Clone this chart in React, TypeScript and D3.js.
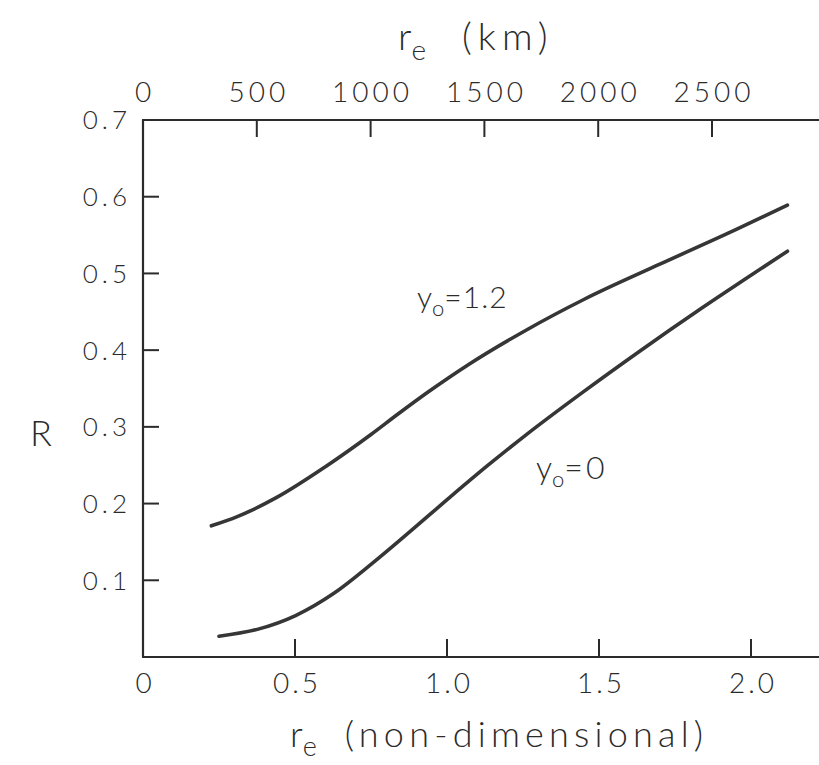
import React from 'react';
import * as d3 from 'd3';

// tick values
const kmTicks = [0, 500, 1000, 1500, 2000, 2500];
const reTicks = [0, 0.5, 1.0, 1.5, 2.0];
const RTicks = [0.1, 0.2, 0.3, 0.4, 0.5, 0.6, 0.7];

// y0 = 1.2 curve
const reUpper = [0.225, 0.31, 0.44, 0.6, 0.75, 0.84, 0.94, 1.07, 1.26, 1.45, 1.7, 1.95, 2.12];
const RUpper = [0.171, 0.183, 0.208, 0.248, 0.29, 0.317, 0.346, 0.381, 0.426, 0.466, 0.512, 0.557, 0.589];

// y0 = 0 curve
const reLower = [0.25, 0.376, 0.502, 0.628, 0.754, 0.88, 1.006, 1.132, 1.258, 1.446, 1.635, 1.824, 1.975, 2.12];
const RLower = [0.027, 0.036, 0.054, 0.083, 0.122, 0.164, 0.207, 0.249, 0.289, 0.345, 0.399, 0.451, 0.491, 0.529];

const width = 819;
const height = 765;
const ink = '#2b2b2b';
const font = "Lato, 'Open Sans', 'DejaVu Sans', sans-serif";

export default function App() {
  const x = d3.scaleLinear().domain([0, 2]).range([143, 751]);
  const xKm = d3.scaleLinear().domain([0, 2500]).range([143, 712]);
  const y = d3.scaleLinear().domain([0, 0.7]).range([657, 120]);

  const line = d3
    .line<number[]>()
    .x(d => d[0])
    .y(d => d[1])
    .curve(d3.curveMonotoneX);

  const upperPts = reUpper.map((r, i) => [x(r), y(RUpper[i])]);
  const lowerPts = reLower.map((r, i) => [x(r), y(RLower[i])]);

  const top = y(0.7);
  const bottom = y(0);
  const left = x(0);

  return (
    <svg
      width={width}
      height={height}
      style={{ position: 'absolute', left: 0, top: 0, background: '#fff' }}
      fontFamily={font}
      fill={ink}
    >
      {/* frame: left, top and bottom only */}
      <g stroke={ink} strokeWidth={2.2} fill="none">
        <line x1={left} y1={top} x2={left} y2={bottom} />
        <line x1={left - 1} y1={top} x2={width} y2={top} />
        <line x1={left - 1} y1={bottom} x2={width} y2={bottom} />
      </g>

      {/* left ticks */}
      {RTicks.filter(v => v < 0.7).map(v => (
        <line key={'lt' + v} x1={left} x2={left + 16} y1={y(v)} y2={y(v)} stroke={ink} strokeWidth={2} />
      ))}
      {/* bottom ticks */}
      {reTicks.filter(v => v > 0).map(v => (
        <line key={'bt' + v} x1={x(v)} x2={x(v)} y1={bottom} y2={bottom - 18} stroke={ink} strokeWidth={2} />
      ))}
      {/* top ticks */}
      {kmTicks.filter(v => v > 0).map(v => (
        <line key={'tt' + v} x1={xKm(v)} x2={xKm(v)} y1={top} y2={top + 17} stroke={ink} strokeWidth={2} />
      ))}

      {/* tick labels */}
      <g fontSize={26} fontWeight={300} letterSpacing={4}>
        {RTicks.map(v => (
          <text key={'ly' + v} x={131} y={y(v)} dy="0.36em" textAnchor="end">
            {v.toFixed(1)}
          </text>
        ))}
      </g>
      <g fontSize={28} fontWeight={300} letterSpacing={4}>
        {kmTicks.map(v => (
          <text key={'lk' + v} x={xKm(v) + 2} y={102} textAnchor="middle">
            {v}
          </text>
        ))}
      </g>
      <g fontSize={28} fontWeight={300} letterSpacing={3}>
        {reTicks.map(v => (
          <text key={'lx' + v} x={x(v) + 2} y={693} textAnchor="middle">
            {v === 0 ? '0' : v.toFixed(1)}
          </text>
        ))}
      </g>

      {/* axis titles */}
      <text x={398} y={50} fontSize={38} fontWeight={300}>
        r
        <tspan fontSize={28} dy={10}>e</tspan>
        <tspan dy={-10} dx={36} letterSpacing={6}>(km)</tspan>
      </text>
      <text x={290} y={747} fontSize={36} fontWeight={300}>
        r
        <tspan fontSize={27} dy={9}>e</tspan>
        <tspan dy={-9} dx={28} letterSpacing={5.2}>(non-dimensional)</tspan>
      </text>
      <text x={30} y={446} fontSize={36} fontWeight={300}>R</text>

      {/* curves */}
      <g fill="none" stroke="#363636" strokeWidth={3.6} strokeLinecap="round">
        <path d={line(upperPts) || ''} />
        <path d={line(lowerPts) || ''} />
      </g>

      {/* curve labels */}
      <text x={417} y={308} fontSize={30} fontWeight={300}>
        y
        <tspan fontSize={22} dy={8}>o</tspan>
        <tspan dy={-8} letterSpacing={1}>=1.2</tspan>
      </text>
      <text x={536} y={479} fontSize={32} fontWeight={300}>
        y
        <tspan fontSize={22} dy={8}>o</tspan>
        <tspan dy={-8} letterSpacing={3}>=0</tspan>
      </text>
    </svg>
  );
}
